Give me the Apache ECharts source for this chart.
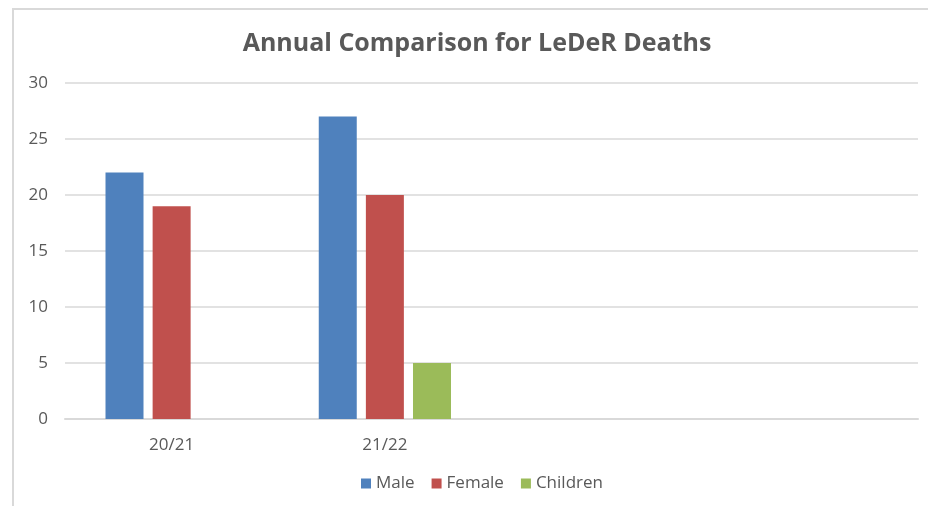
<!DOCTYPE html>
<html><head><meta charset="utf-8">
<script src="https://cdn.jsdelivr.net/npm/echarts@6/dist/echarts.min.js"></script>
<style>html,body{margin:0;padding:0;background:#fff}#c{width:928px;height:506px}</style>
</head><body><div id="c"></div>
<script>
const categories = ["20/21", "21/22", "", ""];
const male = [22, 27, null, null];
const female = [19, 20, null, null];
const children = [null, 5, null, null];
const yTicks = {min: 0, max: 30, interval: 5};

const chart = echarts.init(document.getElementById('c'), null, {renderer: 'canvas'});
const font = '"Open Sans", "Noto Sans", sans-serif';
chart.setOption({
  animation: false,
  backgroundColor: '#fff',
  title: {
    text: 'Annual Comparison for LeDeR Deaths',
    left: 472, top: 26, textAlign: 'center',
    textStyle: {fontFamily: font, fontSize: 25, fontWeight: 'bold', color: '#595959'}
  },
  graphic: [{
    type: 'rect', silent: true, z: -1,
    shape: {x: 13, y: 9, width: 1000, height: 1000},
    style: {fill: 'none', stroke: '#D9D9D9', lineWidth: 2}
  }],
  legend: {
    bottom: 9, left: 356,
    itemWidth: 10, itemHeight: 10, itemGap: 17,
    icon: 'rect',
    textStyle: {fontFamily: font, fontSize: 17, color: '#595959'},
    data: ['Male', 'Female', 'Children']
  },
  grid: {left: 65, right: 10, top: 83, bottom: 87, containLabel: false},
  xAxis: {
    type: 'category', data: categories,
    axisLine: {lineStyle: {color: '#D9D9D9', width: 2}},
    axisTick: {show: false},
    axisLabel: {fontFamily: font, fontSize: 17, color: '#595959', margin: 18}
  },
  yAxis: {
    type: 'value', min: yTicks.min, max: yTicks.max, interval: yTicks.interval,
    axisLine: {show: false}, axisTick: {show: false},
    splitLine: {lineStyle: {color: '#D9D9D9', width: 1.5}},
    axisLabel: {fontFamily: font, fontSize: 17, color: '#595959', margin: 17}
  },
  series: [
    {name: 'Male', type: 'bar', data: male, barWidth: 38, barGap: '24%', itemStyle: {color: '#4F81BD'}},
    {name: 'Female', type: 'bar', data: female, barWidth: 38, barGap: '24%', itemStyle: {color: '#C0504D'}},
    {name: 'Children', type: 'bar', data: children, barWidth: 38, barGap: '24%', itemStyle: {color: '#9BBB59'}}
  ]
});
</script></body></html>
